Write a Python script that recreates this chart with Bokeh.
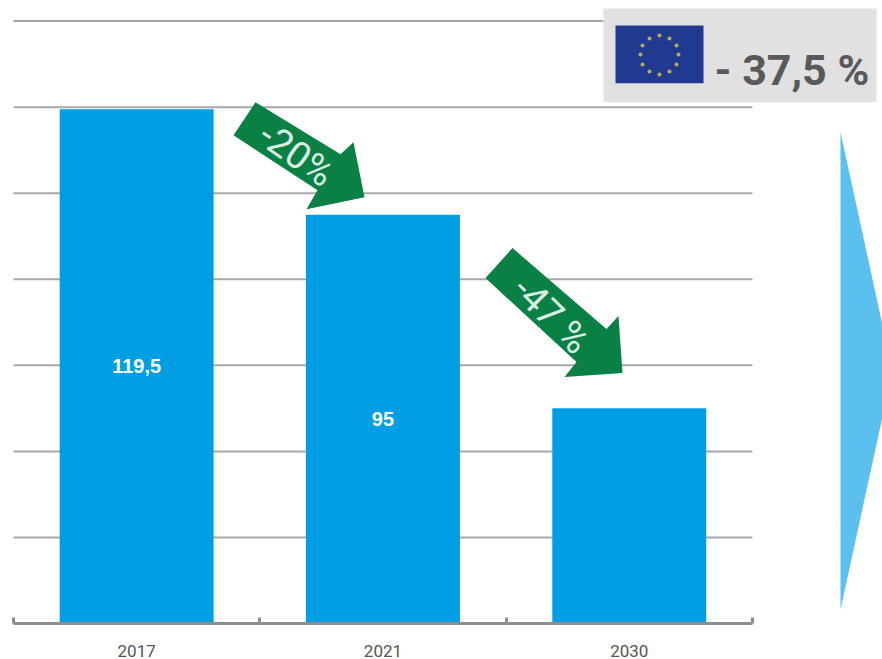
from bokeh.core.properties import value
from bokeh.embed import file_html
from bokeh.models import ColumnDataSource, FixedTicker, Range1d
from bokeh.plotting import figure
from bokeh.resources import INLINE

# Chart data
years = ["2017", "2021", "2030"]
emissions = [119.5, 95, 50]
bar_labels = ["119,5", "95", ""]
y_ticks = [20, 40, 60, 80, 100, 120, 140]

# Page geometry in pixels and the scale of the value and category axes
WIDTH, HEIGHT = 882, 659
BASE_Y = 624
PX_PER_UNIT = 4.31
CAT_ORIGIN = 13
CAT_STEP = 246.3


def dx(px):
    return (px - CAT_ORIGIN) / CAT_STEP


def dy(px):
    return (BASE_Y - px) / PX_PER_UNIT


# Decorative shapes, in page pixels
arrow_one = [(255, 102), (340, 154), (353, 142), (364, 197), (306, 209), (317, 190), (233, 135)]
arrow_two = [(512, 248), (606, 329), (618, 316), (622, 373), (564, 377), (576, 362), (485, 278)]
chevron = [(840, 132), (892, 371), (840, 610)]
flag_stars = [(659, 35), (669, 38), (676, 45), (678, 54), (676, 64), (669, 71),
              (659, 74), (649, 71), (642, 64), (640, 54), (642, 45), (649, 38)]

p = figure(
    width=WIDTH, height=HEIGHT, output_backend="svg", toolbar_location=None,
    x_range=Range1d(dx(0), dx(WIDTH)), y_range=Range1d(0, dy(0)),
    min_border_left=0, min_border_right=0, min_border_top=0, min_border_bottom=HEIGHT - BASE_Y,
    outline_line_color=None, background_fill_color="white", border_fill_color="white",
)
p.yaxis.visible = False
p.xgrid.visible = False
p.ygrid.visible = False

# Horizontal rules stop at the end of the category axis
p.segment(x0=[0] * len(y_ticks), x1=[3] * len(y_ticks), y0=y_ticks, y1=y_ticks,
          line_color="#a9a7a7", line_width=2)

axis = p.xaxis[0]
axis.ticker = FixedTicker(ticks=[0.5, 1.5, 2.5], minor_ticks=[0, 1, 2, 3])
axis.major_label_overrides = {i + 0.5: y for i, y in enumerate(years)}
axis.bounds = (0, 3)
axis.axis_line_color = "#8f8d8d"
axis.axis_line_width = 3
axis.major_tick_line_color = None
axis.minor_tick_line_color = "#8f8d8d"
axis.minor_tick_line_width = 3
axis.minor_tick_in = 6
axis.minor_tick_out = 0
axis.major_label_standoff = 15
axis.major_label_text_font = "Roboto"
axis.major_label_text_font_size = "17px"
axis.major_label_text_font_style = "normal"
axis.major_label_text_color = "#555555"

source = ColumnDataSource(dict(
    x=[i + 0.5 for i in range(len(years))],
    top=emissions,
    mid=[v / 2 for v in emissions],
    label=bar_labels,
))
p.vbar(x="x", top="top", bottom=0, width=0.625, source=source, color="#009fe3", line_color=None)
p.text(x="x", y="mid", text="label", source=source, text_align="center", text_baseline="middle",
       text_color="white", text_font=value("Liberation Sans"), text_font_style="bold",
       text_font_size="20px")

# Reduction arrows with their rotated captions
for shape, caption, cx, cy, angle in [
    (arrow_one, "-20%", 296, 154, -35),
    (arrow_two, "-47 %", 551, 315, -45),
]:
    p.patch([dx(a) for a, _ in shape], [dy(b) for _, b in shape], color="#0a8045", line_color=None)
    p.text([dx(cx)], [dy(cy)], text=[caption], angle=[angle], angle_units="deg",
           text_align="center", text_baseline="middle", text_color="#d9f0e2",
           text_font=value("Roboto"), text_font_size="38px")

# Chevron on the right
p.patch([dx(a) for a, _ in chevron], [dy(b) for _, b in chevron], color="#5bc0ee", line_color=None)

# EU target panel with the flag
p.quad(left=[dx(603)], right=[dx(876)], top=[dy(8)], bottom=[dy(102)], color="#e1e1e1", line_color=None)
p.quad(left=[dx(615)], right=[dx(703)], top=[dy(25)], bottom=[dy(83)], color="#21398f", line_color=None)
p.scatter([dx(a) for a, _ in flag_stars], [dy(b) for _, b in flag_stars], size=4,
          color="#b9ab5e", line_color=None)
p.text([dx(714)], [dy(70)], text=["- 37,5 %"], text_align="left", text_baseline="alphabetic",
       text_color="#595959", text_font=value("Roboto"), text_font_style="bold", text_font_size="43px")

open("out.html", "w").write(file_html(p, INLINE))
